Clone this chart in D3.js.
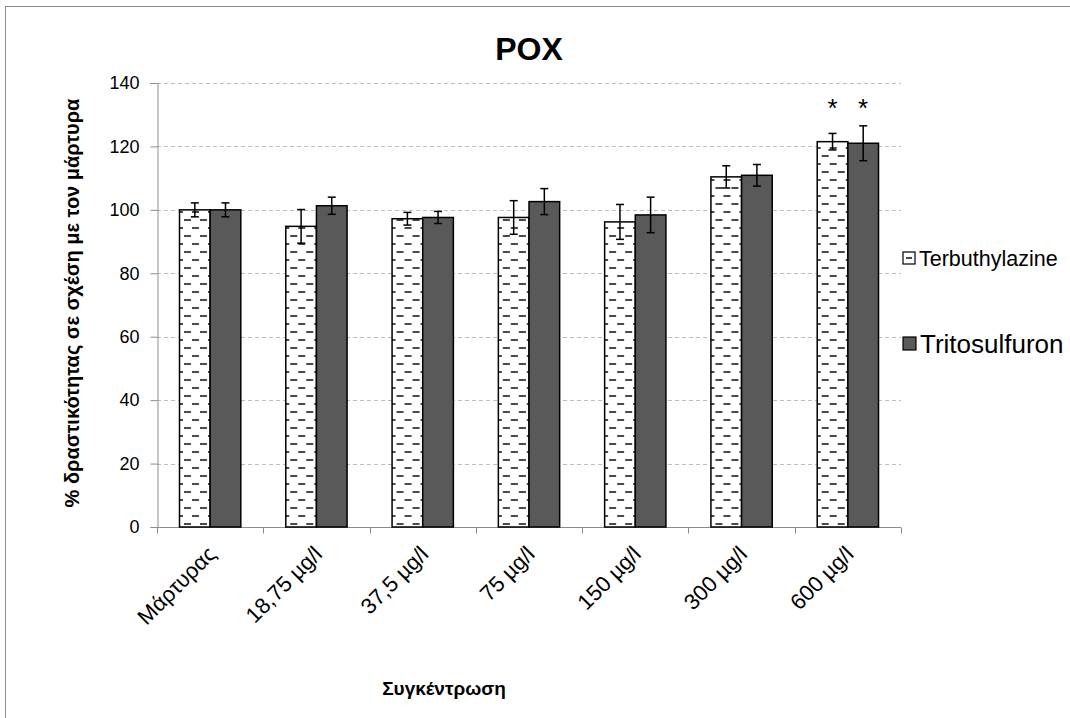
<!DOCTYPE html>
<html>
<head>
<meta charset="utf-8">
<script src="https://cdn.jsdelivr.net/npm/d3@7"></script>
<style>
  html, body { margin: 0; padding: 0; background: #fff; }
  svg { display: block; }
  text { font-family: "Liberation Sans", Arial, sans-serif; fill: #000; }
</style>
</head>
<body>
<svg id="chart" width="1070" height="718"></svg>
<script>
// Concentrations tested and POX activity relative to the control (%)
const categories = ["Μάρτυρας", "18,75 µg/l", "37,5 µg/l", "75 µg/l", "150 µg/l", "300 µg/l", "600 µg/l"];
const seriesNames = ["Terbuthylazine", "Tritosulfuron"];
const terbuthylazine = [100, 94.8, 97.2, 97.6, 96.2, 110.4, 121.5];
const terbuthylazineErr = [2.2, 5.3, 2.0, 5.3, 5.5, 3.5, 2.6];
const tritosulfuron = [100, 101.3, 97.6, 102.6, 98.4, 110.9, 121.0];
const tritosulfuronErr = [2.2, 2.7, 1.9, 4.1, 5.6, 3.4, 5.5];
const terbuthylazineSig = ["", "", "", "", "", "", "*"];
const tritosulfuronSig = ["", "", "", "", "", "", "*"];
const yTicks = [0, 20, 40, 60, 80, 100, 120, 140];

const svg = d3.select("#chart");

// outer chart frame
svg.append("rect")
  .attr("x", 5.5).attr("y", 6.5)
  .attr("width", 1100).attr("height", 800)
  .attr("fill", "none").attr("stroke", "#8c8c8c").attr("stroke-width", 1);

// dashed fill used by the Terbuthylazine bars
const defs = svg.append("defs");
const pat = defs.append("pattern")
  .attr("id", "dashfill")
  .attr("patternUnits", "userSpaceOnUse")
  .attr("width", 16).attr("height", 16);
pat.append("rect").attr("width", 16).attr("height", 16).attr("fill", "#fff");
pat.append("rect").attr("x", 3).attr("y", 3).attr("width", 7).attr("height", 2).attr("fill", "#4a4a4a");
pat.append("rect").attr("x", 11).attr("y", 11).attr("width", 7).attr("height", 2).attr("fill", "#4a4a4a");
pat.append("rect").attr("x", -5).attr("y", 11).attr("width", 7).attr("height", 2).attr("fill", "#4a4a4a");

const plot = { left: 157, right: 901, top: 83, bottom: 527 };

const x = d3.scaleBand().domain(categories).range([plot.left, plot.right]).paddingInner(0).paddingOuter(0);
const xs = d3.scaleBand().domain(seriesNames).range([22.5, 83.8]);
const y = d3.scaleLinear().domain([0, 140]).range([plot.bottom, plot.top]);

// gridlines
svg.append("g")
  .selectAll("line")
  .data(yTicks.filter(d => d > 0))
  .join("line")
  .attr("x1", plot.left).attr("x2", plot.right)
  .attr("y1", d => Math.round(y(d)) + 0.5).attr("y2", d => Math.round(y(d)) + 0.5)
  .attr("stroke", "#bdbdbd").attr("stroke-width", 1).attr("stroke-dasharray", "4,3");

// y axis
const yAxis = svg.append("g")
  .attr("transform", `translate(${plot.left + 0.5},0)`)
  .call(d3.axisLeft(y).tickValues(yTicks).tickSize(7).tickPadding(11).tickFormat(d3.format("d")));
yAxis.select(".domain").attr("stroke", "#8c8c8c");
yAxis.selectAll(".tick line").attr("stroke", "#8c8c8c");
yAxis.selectAll(".tick text").attr("font-size", 18).attr("font-family", "Liberation Sans, Arial, sans-serif").attr("fill", "#000");

// x axis with ticks at category boundaries
const xAxisG = svg.append("g").attr("transform", `translate(0,${plot.bottom + 0.5})`);
xAxisG.append("line")
  .attr("x1", plot.left).attr("x2", plot.right)
  .attr("stroke", "#8c8c8c");
xAxisG.selectAll("line.tk")
  .data(categories.map(c => x(c)).concat([plot.right]))
  .join("line").attr("class", "tk")
  .attr("x1", d => Math.round(d) + 0.5).attr("x2", d => Math.round(d) + 0.5)
  .attr("y1", 0).attr("y2", 6)
  .attr("stroke", "#8c8c8c");

xAxisG.selectAll("text.lbl")
  .data(categories)
  .join("text").attr("class", "lbl")
  .attr("transform", d => `translate(${x(d) + x.bandwidth() / 2 + 7},${28}) rotate(-45)`)
  .attr("text-anchor", "end")
  .attr("font-size", 22)
  .text(d => d);

// bars
const rows = categories.map((c, i) => ({
  cat: c,
  vals: [
    { s: seriesNames[0], v: terbuthylazine[i], e: terbuthylazineErr[i], sig: terbuthylazineSig[i] },
    { s: seriesNames[1], v: tritosulfuron[i], e: tritosulfuronErr[i], sig: tritosulfuronSig[i] }
  ]
}));
const fills = { "Terbuthylazine": "url(#dashfill)", "Tritosulfuron": "#595959" };

const groups = svg.append("g").selectAll("g")
  .data(rows).join("g")
  .attr("transform", d => `translate(${x(d.cat)},0)`);

groups.selectAll("rect")
  .data(d => d.vals).join("rect")
  .attr("x", d => xs(d.s))
  .attr("width", xs.bandwidth())
  .attr("y", d => y(d.v))
  .attr("height", d => y(0) - y(d.v))
  .attr("fill", d => fills[d.s])
  .attr("stroke", "#000").attr("stroke-width", 1.5);

// error bars
const eb = groups.selectAll("g.err").data(d => d.vals).join("g").attr("class", "err");
eb.append("line")
  .attr("x1", d => xs(d.s) + xs.bandwidth() / 2).attr("x2", d => xs(d.s) + xs.bandwidth() / 2)
  .attr("y1", d => y(d.v + d.e)).attr("y2", d => y(d.v - d.e))
  .attr("stroke", "#000").attr("stroke-width", 1.5);
eb.selectAll("line.cap")
  .data(d => [d, d].map((v, k) => ({ ...v, k })))
  .join("line").attr("class", "cap")
  .attr("x1", d => xs(d.s) + xs.bandwidth() / 2 - 4).attr("x2", d => xs(d.s) + xs.bandwidth() / 2 + 4)
  .attr("y1", d => y(d.k ? d.v - d.e : d.v + d.e)).attr("y2", d => y(d.k ? d.v - d.e : d.v + d.e))
  .attr("stroke", "#000").attr("stroke-width", 1.5);

// significance markers
groups.selectAll("text.sig")
  .data(d => d.vals.filter(v => v.sig)).join("text").attr("class", "sig")
  .attr("x", d => xs(d.s) + xs.bandwidth() / 2)
  .attr("y", 117)
  .attr("text-anchor", "middle")
  .attr("font-size", 26)
  .text(d => d.sig);

// title
svg.append("text")
  .attr("x", 529).attr("y", 60)
  .attr("text-anchor", "middle")
  .attr("font-size", 32).attr("font-weight", "bold")
  .text("POX");

// axis titles
svg.append("text")
  .attr("transform", "translate(79,303) rotate(-90)")
  .attr("text-anchor", "middle")
  .attr("font-size", 20).attr("font-weight", "bold")
  .text("% δραστικότητας σε σχέση με τον μάρτυρα");

svg.append("text")
  .attr("x", 444).attr("y", 695)
  .attr("text-anchor", "middle")
  .attr("font-size", 19).attr("font-weight", "bold")
  .text("Συγκέντρωση");

// legend
const leg1 = svg.append("g").attr("transform", "translate(903,252)");
leg1.append("rect").attr("width", 12).attr("height", 12).attr("fill", "#fff").attr("stroke", "#000").attr("stroke-width", 1.2);
leg1.append("rect").attr("x", 3).attr("y", 5).attr("width", 6).attr("height", 2).attr("fill", "#4a4a4a");
leg1.append("text").attr("x", 16).attr("y", 13.5).attr("font-size", 21.5).text(seriesNames[0]);

const leg2 = svg.append("g").attr("transform", "translate(903,337)");
leg2.append("rect").attr("width", 13).attr("height", 13).attr("fill", "#595959").attr("stroke", "#000").attr("stroke-width", 1.2);
leg2.append("text").attr("x", 17).attr("y", 15.5).attr("font-size", 26).text(seriesNames[1]);
</script>
</body>
</html>
